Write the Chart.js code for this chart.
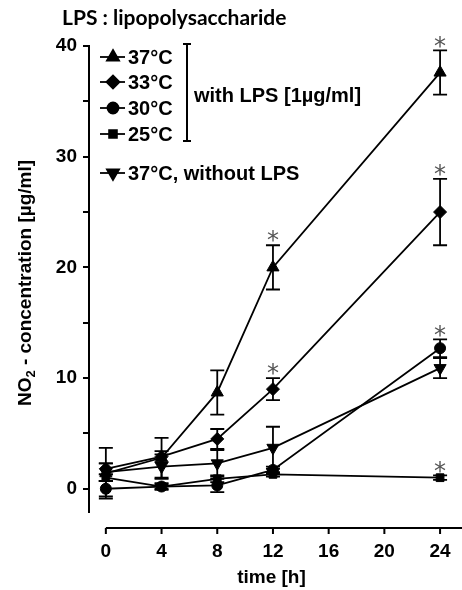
<!DOCTYPE html>
<html>
<head>
<meta charset="utf-8">
<script src="https://cdn.jsdelivr.net/npm/chart.js@4.4.1/dist/chart.umd.min.js"></script>
<style>
  html, body { margin: 0; padding: 0; background: #fff; }
  #wrap { width: 462px; height: 590px; position: relative; }
</style>
</head>
<body>
<div id="wrap"><canvas id="myChart"></canvas></div>
<script>
const times = [0, 4, 8, 12, 24];
const xTicks = [0, 4, 8, 12, 16, 20, 24];
const yTicks = [0, 5, 10, 15, 20, 25, 30, 35, 40];

// NO2 concentration (µg/ml) per series, with error (±) and significance flags
const values37 = [1.4, 2.8, 8.7, 20.0, 37.6];
const err37 = [2.3, 1.8, 2.0, 2.0, 2.0];
const star37 = [0, 0, 0, 1, 1];

const values33 = [1.8, 2.9, 4.5, 9.0, 25.0];
const err33 = [0.5, 0.5, 0.9, 1.0, 3.0];
const star33 = [0, 0, 0, 1, 1];

const values30 = [0.0, 0.2, 0.3, 1.7, 12.7];
const err30 = [0.7, 0.3, 0.6, 0.3, 0.8];
const star30 = [0, 0, 0, 0, 1];

const values25 = [1.0, 0.2, 0.9, 1.3, 1.0];
const err25 = [0.3, 0.2, 0.3, 0.2, 0.2];
const star25 = [0, 0, 0, 0, 1];

const valuesNoLps = [1.5, 2.0, 2.3, 3.7, 10.9];
const errNoLps = [0.8, 1.1, 1.2, 1.9, 0.9];
const starNoLps = [0, 0, 0, 0, 0];

const seriesNames = ['37°C', '33°C', '30°C', '25°C', '37°C, without LPS'];

const mainFont = '"Liberation Sans", Arial, sans-serif';

const makeSet = function (name, values, errs, stars, style, radius, rotation) {
  return {
    label: name,
    data: times.map((t, i) => ({ x: t, y: values[i] })),
    errs: errs,
    stars: stars,
    showLine: true,
    borderColor: '#000',
    backgroundColor: '#000',
    borderWidth: 1.8,
    pointStyle: style,
    pointRadius: radius,
    pointRotation: rotation,
    pointBorderWidth: 1,
    clip: false,
  };
};

const datasets = [
  makeSet(seriesNames[0], values37, err37, star37, 'triangle', 7, 0),
  makeSet(seriesNames[1], values33, err33, star33, 'rectRot', 6.5, 0),
  makeSet(seriesNames[2], values30, err30, star30, 'circle', 5.5, 0),
  makeSet(seriesNames[3], values25, err25, star25, 'rect', 5.5, 0),
  makeSet(seriesNames[4], valuesNoLps, errNoLps, starNoLps, 'triangle', 7, 180),
];

const decor = {
  id: 'decor',
  beforeDatasetsDraw(chart) {
    const ctx = chart.ctx;
    const xs = chart.scales.x, ys = chart.scales.y;
    ctx.save();
    ctx.strokeStyle = '#000';
    ctx.lineWidth = 1.8;
    chart.data.datasets.forEach(ds => {
      ds.data.forEach((p, i) => {
        const px = xs.getPixelForValue(p.x);
        const top = ys.getPixelForValue(p.y + ds.errs[i]);
        const bot = ys.getPixelForValue(p.y - ds.errs[i]);
        ctx.beginPath();
        ctx.moveTo(px, top); ctx.lineTo(px, bot);
        ctx.moveTo(px - 7, top); ctx.lineTo(px + 7, top);
        ctx.moveTo(px - 7, bot); ctx.lineTo(px + 7, bot);
        ctx.stroke();
      });
    });
    ctx.restore();
  },
  afterDatasetsDraw(chart) {
    const ctx = chart.ctx;
    const xs = chart.scales.x, ys = chart.scales.y;
    const area = chart.chartArea;
    ctx.save();

    // asterisks
    ctx.fillStyle = '#555';
    ctx.font = '24px "DejaVu Sans"';
    ctx.textAlign = 'center';
    ctx.textBaseline = 'middle';
    chart.data.datasets.forEach(ds => {
      ds.data.forEach((p, i) => {
        if (!ds.stars[i]) return;
        const px = xs.getPixelForValue(p.x);
        const top = ys.getPixelForValue(p.y + ds.errs[i]);
        ctx.fillText('*', px, top - 3);
      });
    });

    // detached x axis, runs on to the right edge
    const axY = area.bottom + 16;
    ctx.strokeStyle = '#000';
    ctx.lineWidth = 2;
    ctx.beginPath();
    ctx.moveTo(xs.getPixelForValue(xTicks[0]), axY);
    ctx.lineTo(chart.width, axY);
    xTicks.forEach(t => {
      const px = xs.getPixelForValue(t);
      ctx.moveTo(px, axY);
      ctx.lineTo(px, axY + 6);
    });
    ctx.stroke();

    // legend
    const lx = area.left + 11, tx = area.left + 39;
    const rowsY = [57, 82, 108, 134, 173];
    ctx.font = 'bold 20px ' + mainFont;
    ctx.textAlign = 'left';
    ctx.textBaseline = 'middle';
    ctx.fillStyle = '#000';
    chart.data.datasets.forEach((ds, i) => {
      const y = rowsY[i];
      ctx.lineWidth = 1.8;
      ctx.beginPath();
      ctx.moveTo(lx, y); ctx.lineTo(lx + 25, y);
      ctx.stroke();
      Chart.helpers.drawPoint(ctx, {
        pointStyle: ds.pointStyle, radius: ds.pointRadius, rotation: ds.pointRotation, borderWidth: 1,
      }, lx + 13, y);
      ctx.fillText(ds.label, tx, y + 1);
    });
    // bracket for LPS group
    const bx = area.left + 98;
    ctx.lineWidth = 2;
    ctx.beginPath();
    ctx.moveTo(bx, 44); ctx.lineTo(bx, 141);
    ctx.moveTo(bx - 4, 44); ctx.lineTo(bx + 4, 44);
    ctx.moveTo(bx - 4, 141); ctx.lineTo(bx + 4, 141);
    ctx.stroke();
    ctx.fillText('with LPS [1µg/ml]', bx + 7, 96);

    // y axis title with subscript
    ctx.save();
    ctx.translate(24, 283);
    ctx.rotate(-Math.PI / 2);
    const f1 = 'bold 19px ' + mainFont, f2 = 'bold 13px ' + mainFont;
    const p1 = 'NO', p2 = '2', p3 = ' - concentration [µg/ml]';
    ctx.font = f1; const w1 = ctx.measureText(p1).width, w3 = ctx.measureText(p3).width;
    ctx.font = f2; const w2 = ctx.measureText(p2).width;
    let sx = -(w1 + w2 + w3) / 2;
    ctx.textAlign = 'left';
    ctx.textBaseline = 'alphabetic';
    ctx.font = f1; ctx.fillText(p1, sx, 7); sx += w1;
    ctx.font = f2; ctx.fillText(p2, sx, 11); sx += w2;
    ctx.font = f1; ctx.fillText(p3, sx, 7);
    ctx.restore();

    // figure title
    ctx.font = 'bold 21px Lato, "Open Sans", sans-serif';
    ctx.textBaseline = 'alphabetic';
    ctx.fillText('LPS : lipopolysaccharide', 62, 25);

    ctx.restore();
  },
};

new Chart(document.getElementById('myChart'), {
  type: 'scatter',
  data: { datasets: datasets },
  options: {
    responsive: true,
    maintainAspectRatio: false,
    animation: false,
    layout: { padding: { top: 46, left: 0, right: 0, bottom: 0 } },
    plugins: { legend: { display: false }, tooltip: { enabled: false } },
    scales: {
      x: {
        type: 'linear',
        min: -1.21,
        max: 25.0,
        afterBuildTicks: s => { s.ticks = xTicks.map(v => ({ value: v })); },
        afterFit: s => { s.height = 78; s.paddingLeft = 0; s.paddingRight = 0; },
        grid: { display: false },
        border: { display: false },
        ticks: { color: '#000', font: { family: mainFont, size: 19, weight: 'bold' }, padding: 20, maxRotation: 0 },
        title: { display: true, text: 'time [h]', color: '#000', font: { family: mainFont, size: 19, weight: 'bold' }, padding: { top: 4, bottom: 1 } },
      },
      y: {
        min: -2.1,
        max: 40,
        afterBuildTicks: s => { s.ticks = yTicks.map(v => ({ value: v })); },
        afterFit: s => { s.width = 89; s.paddingTop = 0; s.paddingBottom = 0; },
        grid: { drawOnChartArea: false, color: '#000', lineWidth: 2, tickLength: 6 },
        border: { display: true, color: '#000', width: 2 },
        ticks: {
          color: '#000',
          font: { family: mainFont, size: 19, weight: 'bold' },
          padding: 6,
          callback: v => (v % 10 === 0 ? v : ''),
        },
      },
    },
  },
  plugins: [decor],
});
</script>
</body>
</html>
